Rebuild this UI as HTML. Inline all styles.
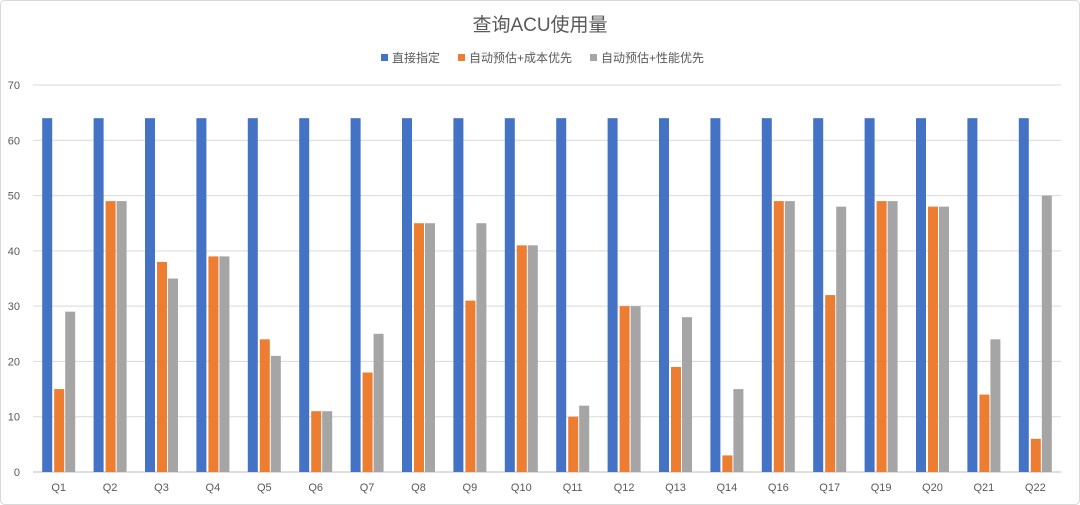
<!DOCTYPE html>
<html><head><meta charset="utf-8">
<style>
body{margin:0;background:#fff;}
svg{display:block;font-family:"Liberation Sans","Noto Sans CJK SC",sans-serif;}
</style></head>
<body>
<svg id="chart" width="1080" height="505">
<rect x="0.5" y="0.5" width="1079" height="504" rx="4" fill="#fff" stroke="#d9d9d9"/>
<text x="540" y="31" text-anchor="middle" font-size="19" fill="#595959">查询ACU使用量</text>
<g id="legend"></g>
<g id="grid"></g>
<g id="bars"></g>
<g id="xlabels"></g>
<g id="ylabels"></g>
</svg>
<script>
const categories=["Q1","Q2","Q3","Q4","Q5","Q6","Q7","Q8","Q9","Q10","Q11","Q12","Q13","Q14","Q16","Q17","Q19","Q20","Q21","Q22"];
const seriesNames=["直接指定","自动预估+成本优先","自动预估+性能优先"];
const direct=[64,64,64,64,64,64,64,64,64,64,64,64,64,64,64,64,64,64,64,64];
const costFirst=[15,49,38,39,24,11,18,45,31,41,10,30,19,3,49,32,49,48,14,6];
const perfFirst=[29,49,35,39,21,11,25,45,45,41,12,30,28,15,49,48,49,48,24,50];
const yTicks=[0,10,20,30,40,50,60,70];
const colors=["#4472C4","#ED7D31","#A5A5A5"];
const NS="http://www.w3.org/2000/svg";
const plotLeft=33,plotRight=1061,plotTop=85,plotBottom=472,yMax=70;
const bw=(plotRight-plotLeft)/categories.length;
const yScale=v=>plotBottom-(v/yMax)*(plotBottom-plotTop);
const xc=i=>plotLeft+bw*(i+0.5);
function mk(t,a,p){const e=document.createElementNS(NS,t);for(const k in a)e.setAttribute(k,a[k]);p.appendChild(e);return e;}
const grid=document.getElementById('grid'),yl=document.getElementById('ylabels');
yTicks.forEach(v=>{
 const l=mk('line',{x1:plotLeft,x2:plotRight,y1:yScale(v),y2:yScale(v),stroke:v===0?'#bfbfbf':'#d9d9d9','stroke-width':1},grid);
 
 
 const t=mk('text',{x:20,y:yScale(v)+4,'text-anchor':'end','font-size':11,fill:'#595959'},yl);
 t.textContent=v;
 
 
});
const series=[direct,costFirst,perfFirst];
const bars=document.getElementById('bars'),xl=document.getElementById('xlabels');
const barW=10,offs=[-11.5,0.5,11.5];
categories.forEach((c,i)=>{
 series.forEach((s,j)=>{
  const r=mk('rect',{x:xc(i)+offs[j]-barW/2,y:yScale(s[i]),width:barW,height:plotBottom-yScale(s[i]),fill:colors[j]},bars);
  
  
 });
 const t=mk('text',{x:xc(i),y:491,'text-anchor':'middle','font-size':11,fill:'#595959'},xl);
 t.textContent=c;
 
 
});
const lg=document.getElementById('legend');
const lx=[381,458,590];
seriesNames.forEach((n,j)=>{
 const r=mk('rect',{x:lx[j],y:54,width:7,height:7,fill:colors[j]},lg);
 
 
 const t=mk('text',{x:lx[j]+11,y:62,'font-size':12,fill:'#595959'},lg);
 t.textContent=n;
 
 
});
</script>
</body></html>
